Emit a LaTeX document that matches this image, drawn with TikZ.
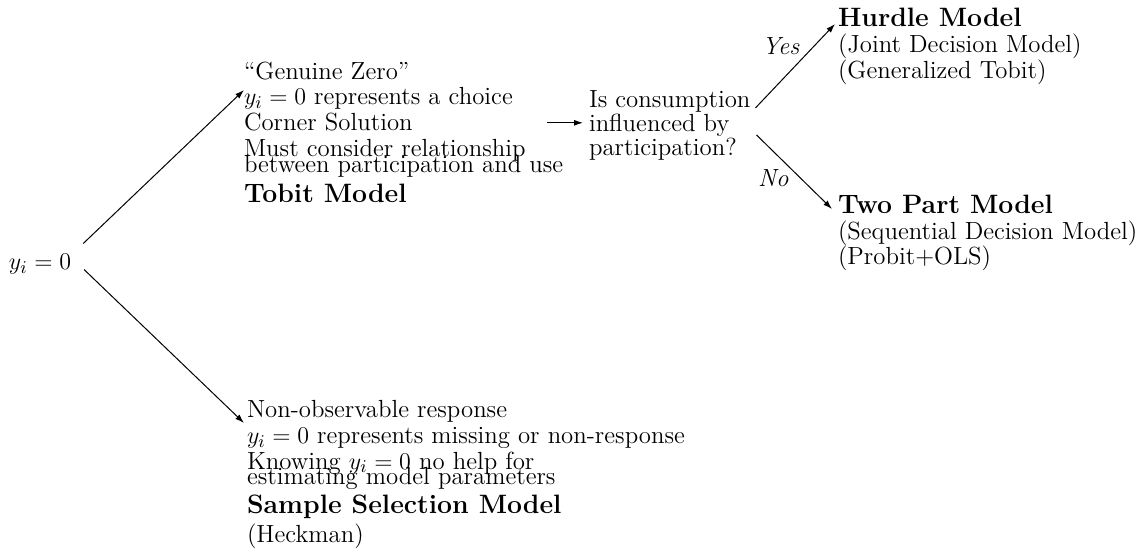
\documentclass[tikz,border=0pt]{standalone}
\usetikzlibrary{arrows.meta,calc,fit}
\begin{document}
\begin{tikzpicture}[x=0.5pt,y=-0.5pt,
  txt/.style={anchor=base west,inner sep=0pt,outer sep=0pt,font=\fontsize{12.4}{14}\selectfont},
  ttl/.style={txt,font=\fontsize{13.3}{15}\selectfont\bfseries},
  lbl/.style={txt,font=\fontsize{12.4}{14}\selectfont\itshape},
  blk/.style={inner sep=0pt,outer sep=0pt},
  conn/.style={-{Latex[length=4.5pt,width=3pt]},line width=0.5pt}]
\useasboundingbox (0,0) rectangle (1140,555);
% root
\node[txt] (root) at (9,270) {$y_i = 0$};
% top block
\node[txt] (t1) at (244,80) {``Genuine Zero''};
\node[txt] (t2) at (244,105) {$y_i = 0$ represents a choice};
\node[txt] (t3) at (244,131) {Corner Solution};
\node[txt] (t4) at (244,157) {Must consider relationship};
\node[txt] (t5) at (244,173) {between participation and use};
\node[ttl] (t6) at (244,203) {Tobit Model};
\node[blk,fit=(t1)(t2)(t3)(t4)(t5)(t6)] (top) {};
% question
\node[txt] (q1) at (589,108) {Is consumption};
\node[txt] (q2) at (589,132) {influenced by};
\node[txt] (q3) at (589,156) {participation?};
\node[blk,fit=(q1)(q2)(q3)] (q) {};
% hurdle
\node[ttl] (h1) at (838,27) {Hurdle Model};
\node[txt] (h2) at (838,53) {(Joint Decision Model)};
\node[txt] (h3) at (838,79) {(Generalized Tobit)};
\node[blk,fit=(h1)(h2)(h3)] (hurdle) {};
% two part
\node[ttl] (p1) at (838,214) {Two Part Model};
\node[txt] (p2) at (838,240) {(Sequential Decision Model)};
\node[txt] (p3) at (838,265) {(Probit+OLS)};
\node[blk,fit=(p1)(p2)(p3)] (twopart) {};
% bottom block
\node[txt] (b1) at (247,417) {Non-observable response};
\node[txt] (b2) at (247,444) {$y_i = 0$ represents missing or non-response};
\node[txt] (b3) at (247,469) {Knowing $y_i = 0$ no help for};
\node[txt] (b4) at (247,484) {estimating model parameters};
\node[ttl] (b5) at (247,513) {Sample Selection Model};
\node[txt] (b6) at (247,542) {(Heckman)};
\node[blk,fit=(b1)(b2)(b3)(b4)(b5)(b6)] (bottom) {};
% labels
\node[lbl] (yes) at (762,55) {Yes};
\node[lbl] (no) at (758,187) {No};
% connectors
\draw[conn] ($(root.east)+(12,-21)$) -- ($(t1.base west)+(0,10)$);
\draw[conn] ($(root.east)+(13,5)$) -- ($(b1.base west)+(-3,6)$);
\draw[conn] ($(q2.west)+(-42,-3)$) -- ($(q2.west)+(-6,-3)$);
\draw[conn] ($(q.east)+(5,-18)$) -- ($(h1.base west)+(-3,-3)$);
\draw[conn] ($(q.east)+(6,9)$) -- ($(p1.base west)+(-6,-5)$);
\end{tikzpicture}
\end{document}
